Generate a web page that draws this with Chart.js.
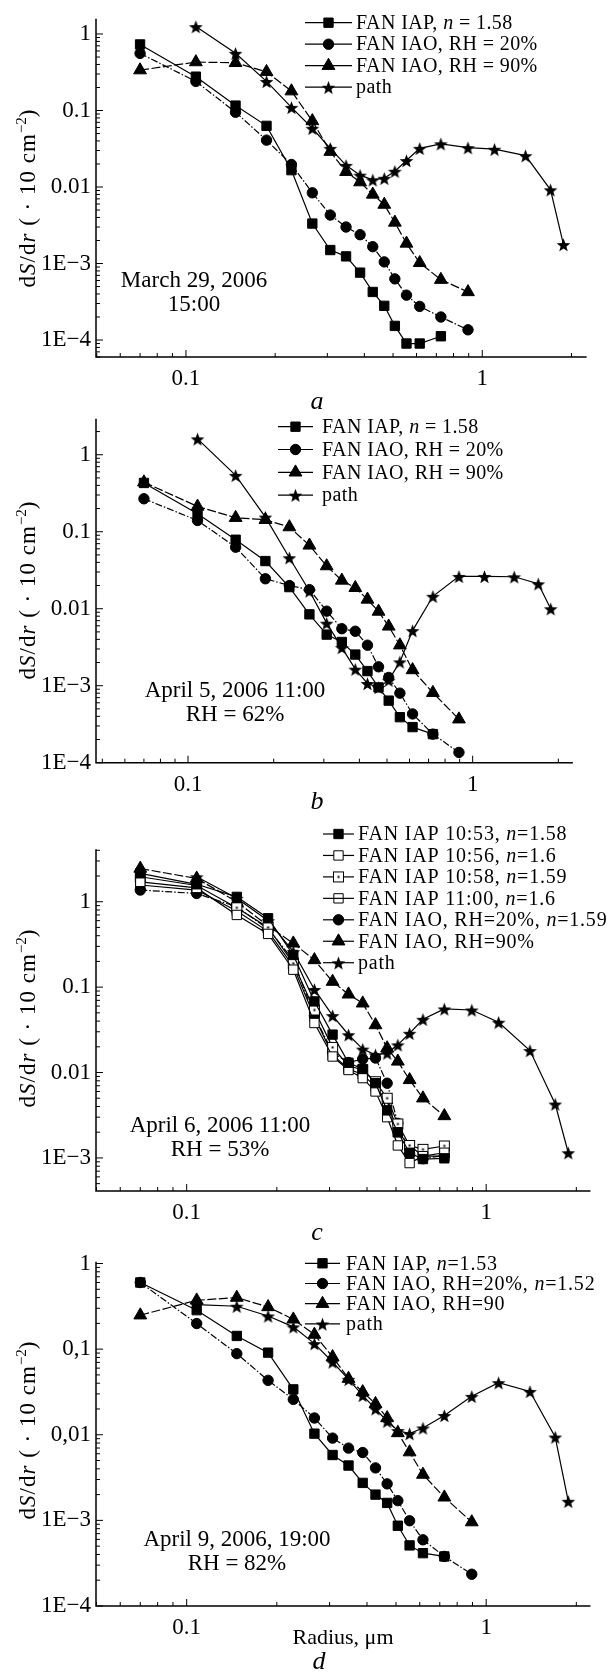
<!DOCTYPE html>
<html>
<head>
<meta charset="utf-8">
<script src="https://cdn.jsdelivr.net/npm/chart.js@4.4.0/dist/chart.umd.min.js"></script>
<style>
  body { margin: 0; background: #fff; }
  #page { position: relative; width: 610px; height: 1672px; font-family: "Liberation Serif", "Times New Roman", serif; color: #000; overflow: hidden; }
  .panel { position: absolute; left: 0; }
  .ytitle { position: absolute; left: 27px; white-space: nowrap; font-size: 23px; letter-spacing: 1px; transform: translate(-50%, -50%) rotate(-90deg); }
  .ytitle sup { font-size: 15px; letter-spacing: 0; }
  .note { position: absolute; font-size: 23px; line-height: 24px; text-align: center; white-space: nowrap; transform: translateX(-50%); }
  .letter { position: absolute; font-style: italic; font-size: 26px; transform: translate(-50%, -50%); }
  .xtitle { position: absolute; font-size: 22px; white-space: nowrap; transform: translate(-50%, -50%); }
</style>
</head>
<body>
<div id="page">
  <div class="panel" style="top:0px"><canvas id="chartA" width="610" height="400"></canvas></div>
  <div class="panel" style="top:400px"><canvas id="chartB" width="610" height="415"></canvas></div>
  <div class="panel" style="top:815px"><canvas id="chartC" width="610" height="425"></canvas></div>
  <div class="panel" style="top:1240px"><canvas id="chartD" width="610" height="432"></canvas></div>

  <div class="ytitle" style="top:198px">d<i>S</i>/d<i>r</i> ( · 10 cm<sup>−2</sup>)</div>
  <div class="ytitle" style="top:590px">d<i>S</i>/d<i>r</i> ( · 10 cm<sup>−2</sup>)</div>
  <div class="ytitle" style="top:1018px">d<i>S</i>/d<i>r</i> ( · 10 cm<sup>−2</sup>)</div>
  <div class="ytitle" style="top:1430px">d<i>S</i>/d<i>r</i> ( · 10 cm<sup>−2</sup>)</div>

  <div class="note" style="left:194px;top:268px">March 29, 2006<br>15:00</div>
  <div class="note" style="left:235px;top:678px">April 5, 2006 11:00<br>RH = 62%</div>
  <div class="note" style="left:220px;top:1113px">April 6, 2006 11:00<br>RH = 53%</div>
  <div class="note" style="left:237px;top:1527px">April 9, 2006, 19:00<br>RH = 82%</div>

  <div class="letter" style="left:317px;top:401px">a</div>
  <div class="letter" style="left:317px;top:801px">b</div>
  <div class="letter" style="left:317px;top:1232px">c</div>
  <div class="letter" style="left:319px;top:1661px">d</div>
  <div class="xtitle" style="left:343px;top:1637px">Radius, μm</div>
</div>

<script>
// Radius grid (µm) shared by the FAN points, plus the far points of the path curve
const radius = [0.07, 0.108, 0.147, 0.187, 0.227, 0.267, 0.307, 0.347, 0.387, 0.427, 0.467, 0.507, 0.555, 0.615, 0.725, 0.895];
const radiusFar = [1.1, 1.4, 1.7, 1.88];
const radiusPath = radius.slice(1).concat(radiusFar);

// a — March 29, 2006 15:00
const aIap = [0.73, 0.277, 0.116, 0.063, 0.0166, 0.00333, 0.0015, 0.00124, 0.00076, 0.000425, 0.00028, 0.000153, 0.00009, 0.00009, 0.000112];
const aIao20 = [0.558, 0.24, 0.095, 0.041, 0.0197, 0.0084, 0.0043, 0.003, 0.00238, 0.00166, 0.00105, 0.00063, 0.000386, 0.000275, 0.0002, 0.000136];
const aIao90 = [0.337, 0.43, 0.42, 0.32, 0.179, 0.073, 0.029, 0.0158, 0.0116, 0.008, 0.0059, 0.00344, 0.00183, 0.00102, 0.000615, 0.000425];
const aPath = [1.25, 0.56, 0.24, 0.11, 0.0586, 0.032, 0.0192, 0.0143, 0.0124, 0.013, 0.0161, 0.0222, 0.032, 0.0367, 0.0327, 0.0312, 0.0257, 0.0092, 0.00177];

// b — April 5, 2006 11:00
const bIap = [0.43, 0.171, 0.0787, 0.0416, 0.0191, 0.00845, 0.00461, 0.0037, 0.00254, 0.00155, 0.00095, 0.00064, 0.00039, 0.00029, 0.000235];
const bIao20 = [0.268, 0.14, 0.063, 0.0245, 0.020, 0.0177, 0.0093, 0.0055, 0.0051, 0.00336, 0.00176, 0.00128, 0.0008, 0.00043, 0.000235, 0.000136];
const bIao90 = [0.44, 0.213, 0.152, 0.143, 0.115, 0.0665, 0.0358, 0.0233, 0.0187, 0.0132, 0.0092, 0.0059, 0.00336, 0.0016, 0.00081, 0.000367];
const bPath = [1.61, 0.54, 0.155, 0.046, 0.017, 0.0065, 0.00313, 0.00164, 0.00107, 0.00095, 0.00118, 0.00204, 0.0052, 0.0145, 0.0263, 0.0263, 0.026, 0.0211, 0.01];

// c — April 6, 2006 11:00
const cIap1053 = [2.15, 1.6, 1.14, 0.64, 0.238, 0.068, 0.0278, 0.013, 0.011, 0.0075, 0.0036, 0.002, 0.00115, 0.00097, 0.00099];
const cIap1056 = [1.71, 1.45, 0.7, 0.42, 0.16, 0.038, 0.0154, 0.0107, 0.0086, 0.006, 0.003, 0.0014, 0.00087, 0.00105, 0.00115];
const cIap1058 = [1.96, 1.55, 0.85, 0.5, 0.19, 0.054, 0.0197, 0.012, 0.0107, 0.0078, 0.005, 0.0025, 0.0014, 0.00126, 0.00138];
const cIap1100 = [1.57, 1.37, 0.78, 0.45, 0.175, 0.045, 0.0161, 0.011, 0.0095, 0.0068, 0.0046, 0.002, 0.0014, 0.00105, 0.00105];
const cIao20 = [1.37, 1.25, 0.87, 0.48, 0.208, 0.046, 0.0172, 0.0131, 0.0144, 0.0148, 0.0075, 0.00254, 0.00112, 0.00098, 0.00107];
const cIao90 = [2.45, 1.87, 1.0, 0.52, 0.326, 0.208, 0.116, 0.0824, 0.0647, 0.036, 0.0193, 0.0135, 0.0082, 0.005, 0.0031];
const cPath = [1.96, 1.1, 0.6, 0.26, 0.094, 0.0464, 0.0277, 0.0188, 0.0161, 0.0169, 0.0211, 0.0288, 0.042, 0.0556, 0.054, 0.0388, 0.0181, 0.00428, 0.00115];

// d — April 9, 2006 19:00
const dIap = [0.6, 0.285, 0.1426, 0.091, 0.0339, 0.0103, 0.0058, 0.00437, 0.00274, 0.002, 0.0016, 0.000866, 0.00051, 0.000414, 0.000379];
const dIao20 = [0.6, 0.199, 0.0886, 0.0432, 0.0259, 0.0157, 0.00914, 0.00698, 0.0062, 0.0041, 0.00267, 0.0017, 0.00099, 0.000593, 0.000379, 0.000235];
const dIao90 = [0.249, 0.372, 0.4, 0.311, 0.223, 0.148, 0.081, 0.0452, 0.0316, 0.023, 0.0157, 0.0105, 0.00627, 0.00343, 0.00186, 0.000955];
const dPath = [0.331, 0.317, 0.244, 0.182, 0.116, 0.0708, 0.0444, 0.0288, 0.0201, 0.0144, 0.0112, 0.0103, 0.012, 0.0168, 0.0281, 0.0406, 0.0321, 0.0094, 0.00167];

// tick labels
const xTicks = [0.1, 1];
const xTickLabels = ['0.1', '1'];
const yTicksStd = [1, 0.1, 0.01, 1e-3, 1e-4];
const yLabelsStd = ['1', '0.1', '0.01', '1E−3', '1E−4'];
const yTicksC = [1, 0.1, 0.01, 1e-3];
const yLabelsC = ['1', '0.1', '0.01', '1E−3'];
const yLabelsD = ['1', '0,1', '0,01', '1E−3', '1E−4'];

const FONT = '"Liberation Serif", "Times New Roman", serif';

// marker images (filled star, square with a dot)
function makeStar(r) {
  const s = Math.ceil(r * 2 + 2);
  const c = document.createElement('canvas');
  c.width = c.height = s;
  const g = c.getContext('2d');
  g.beginPath();
  for (let i = 0; i < 10; i++) {
    const a = -Math.PI / 2 + i * Math.PI / 5;
    const rr = i % 2 ? r * 0.42 : r;
    g.lineTo(s / 2 + rr * Math.cos(a), s / 2 + 1 + rr * Math.sin(a));
  }
  g.closePath();
  g.fillStyle = '#000';
  g.fill();
  return c;
}
function makeDotSquare(side) {
  const s = side + 2;
  const c = document.createElement('canvas');
  c.width = c.height = s;
  const g = c.getContext('2d');
  g.fillStyle = '#fff';
  g.fillRect(1, 1, side, side);
  g.strokeStyle = '#000';
  g.lineWidth = 1;
  g.strokeRect(1.5, 1.5, side - 1, side - 1);
  g.fillStyle = '#000';
  g.fillRect(s / 2 - 1, s / 2 - 1, 2, 2);
  return c;
}
const starImg = makeStar(7.2);
const dotSqImg = makeDotSquare(11);

const styles = {
  sq: { pointStyle: 'rect', pointRadius: 6.6, pointBackgroundColor: '#000', pointBorderColor: '#000', borderDash: [] },
  sqOpen: { pointStyle: 'rect', pointRadius: 6.6, pointBackgroundColor: '#fff', pointBorderColor: '#000', borderDash: [] },
  sqDot: { pointStyle: dotSqImg, pointRadius: 6.6, pointBackgroundColor: '#fff', pointBorderColor: '#000', borderDash: [] },
  sqLine: { pointStyle: 'rect', pointRadius: 6.6, pointBackgroundColor: 'rgba(0,0,0,0)', pointBorderColor: '#000', borderDash: [] },
  circ: { pointStyle: 'circle', pointRadius: 5.2, pointBackgroundColor: '#000', pointBorderColor: '#000', borderDash: [7, 2, 1.5, 2] },
  tri: { pointStyle: 'triangle', pointRadius: 7.4, pointBackgroundColor: '#000', pointBorderColor: '#000', borderDash: [9, 2.5] },
  star: { pointStyle: starImg, pointRadius: 7.2, pointBackgroundColor: '#000', pointBorderColor: '#000', borderDash: [] }
};

function serie(label, xs, ys, style) {
  return {
    label,
    data: ys.map((y, i) => ({ x: xs[i], y })),
    borderColor: '#000',
    borderWidth: 1.2,
    pointBorderWidth: 1,
    pointHoverRadius: style.pointRadius,
    tension: 0,
    fill: false,
    ...style
  };
}

// axes, inward ticks and the in-plot legend
const framePlugin = {
  id: 'frame',
  afterDraw(chart, args, opts) {
    const ctx = chart.ctx;
    const area = chart.chartArea;
    const xs = chart.scales.x, ys = chart.scales.y;
    ctx.save();
    ctx.strokeStyle = '#000';
    ctx.setLineDash([]);
    ctx.lineWidth = 1.5;
    ctx.beginPath();
    ctx.moveTo(area.left, area.top);
    ctx.lineTo(area.left, area.bottom);
    ctx.lineTo(area.right, area.bottom);
    ctx.stroke();

    ctx.lineWidth = 1;
    const eachTick = (scale, fn) => {
      const lo = Math.floor(Math.log10(scale.min)), hi = Math.ceil(Math.log10(scale.max));
      for (let d = lo; d <= hi; d++) {
        for (let k = 1; k <= 9; k++) {
          const v = k * Math.pow(10, d);
          if (v < scale.min * 0.999 || v > scale.max * 1.001) continue;
          fn(scale.getPixelForValue(v), k === 1);
        }
      }
    };
    ctx.beginPath();
    eachTick(xs, (px, major) => {
      ctx.moveTo(px, area.bottom);
      ctx.lineTo(px, area.bottom - (major ? 7 : 4));
    });
    eachTick(ys, (py, major) => {
      ctx.moveTo(area.left, py);
      ctx.lineTo(area.left + (major ? 7 : 4), py);
    });
    ctx.stroke();

    // legend
    const lg = opts.legend;
    chart.data.datasets.forEach((ds, i) => {
      const y = lg.y + i * lg.gap;
      ctx.lineWidth = 1.2;
      ctx.setLineDash([]);
      ctx.beginPath();
      ctx.moveTo(lg.x0, y);
      ctx.lineTo(lg.x1, y);
      ctx.stroke();
      ctx.fillStyle = ds.pointBackgroundColor;
      ctx.strokeStyle = ds.pointBorderColor;
      ctx.lineWidth = 1;
      Chart.helpers.drawPoint(ctx, { pointStyle: ds.pointStyle, rotation: 0, radius: ds.pointRadius, borderWidth: 1 }, (lg.x0 + lg.x1) / 2, y);
      ctx.fillStyle = '#000';
      ctx.strokeStyle = '#000';
      ctx.textBaseline = 'middle';
      ctx.textAlign = 'left';
      ctx.letterSpacing = lg.spacing + 'px';
      let tx = lg.tx;
      ds.label.split(/(\bn\b)/).forEach(part => {
        if (!part) return;
        ctx.font = (part === 'n' ? 'italic ' : '') + '20px ' + FONT;
        ctx.fillText(part, tx, y + 1);
        tx += ctx.measureText(part).width;
      });
      ctx.letterSpacing = '0px';
    });
    ctx.restore();
  }
};

function makeChart(id, datasets, cfg) {
  const ctx = document.getElementById(id).getContext('2d');
  return new Chart(ctx, {
    type: 'line',
    data: { datasets },
    options: {
      responsive: false,
      animation: false,
      devicePixelRatio: 1,
      layout: { padding: cfg.padding },
      plugins: {
        legend: { display: false },
        tooltip: { enabled: false },
        frame: { legend: cfg.legend }
      },
      scales: {
        x: {
          type: 'logarithmic',
          min: cfg.xMin, max: cfg.xMax,
          afterFit: s => { s.height = 40; },
          afterBuildTicks: s => { s.ticks = xTicks.map(v => ({ value: v })); },
          grid: { display: false, drawTicks: false },
          border: { display: false },
          ticks: {
            color: '#000', padding: 8, autoSkip: false, maxRotation: 0,
            font: { family: FONT, size: 23 },
            callback: (v, i) => xTickLabels[i]
          }
        },
        y: {
          type: 'logarithmic',
          min: cfg.yMin, max: cfg.yMax,
          afterFit: s => { s.width = 96; },
          afterBuildTicks: s => { s.ticks = cfg.yTicks.map(v => ({ value: v })); },
          grid: { display: false, drawTicks: false },
          border: { display: false },
          ticks: {
            color: '#000', padding: 5, autoSkip: false,
            font: { family: FONT, size: 23 },
            callback: (v, i) => cfg.yLabels[i]
          }
        }
      }
    },
    plugins: [framePlugin]
  });
}

makeChart('chartA', [
  serie('FAN IAP, n = 1.58', radius, aIap, styles.sq),
  serie('FAN IAO, RH = 20%', radius, aIao20, styles.circ),
  serie('FAN IAO, RH = 90%', radius, aIao90, styles.tri),
  serie('path', radiusPath, aPath, styles.star)
], {
  padding: { top: 7, right: 23.4, bottom: 3, left: 0 },
  xMin: 0.0497, xMax: 2.25, yMin: 6.0e-5, yMax: 1.58,
  yTicks: yTicksStd, yLabels: yLabelsStd,
  legend: { x0: 305, x1: 352, tx: 356, y: 22.7, gap: 21.5, spacing: 0.4 }
});

makeChart('chartB', [
  serie('FAN IAP, n = 1.58', radius, bIap, styles.sq),
  serie('FAN IAO, RH = 20%', radius, bIao20, styles.circ),
  serie('FAN IAO, RH = 90%', radius, bIao90, styles.tri),
  serie('path', radiusPath, bPath, styles.star)
], {
  padding: { top: 18.3, right: 37.1, bottom: 12.3, left: 0 },
  xMin: 0.0475, xMax: 2.25, yMin: 1e-4, yMax: 2.93,
  yTicks: yTicksStd, yLabels: yLabelsStd,
  legend: { x0: 278, x1: 313, tx: 322, y: 26.7, gap: 22.8, spacing: 0.4 }
});

makeChart('chartC', [
  serie('FAN IAP 10:53, n=1.58', radius, cIap1053, styles.sq),
  serie('FAN IAP 10:56, n=1.6', radius, cIap1056, styles.sqOpen),
  serie('FAN IAP 10:58, n=1.59', radius, cIap1058, styles.sqDot),
  serie('FAN IAP 11:00, n=1.6', radius, cIap1100, styles.sqLine),
  serie('FAN IAO, RH=20%, n=1.59', radius, cIao20, styles.circ),
  serie('FAN IAO, RH=90%', radius, cIao90, styles.tri),
  serie('path', radiusPath, cPath, styles.star)
], {
  padding: { top: 34.3, right: 19.5, bottom: 9, left: 0 },
  xMin: 0.0498, xMax: 2.23, yMin: 4.1e-4, yMax: 4.11,
  yTicks: yTicksC, yLabels: yLabelsC,
  legend: { x0: 323, x1: 354, tx: 358, y: 19, gap: 21.45, spacing: 0.8 }
});

makeChart('chartD', [
  serie('FAN IAP, n=1.53', radius, dIap, styles.sq),
  serie('FAN IAO, RH=20%, n=1.52', radius, dIao20, styles.circ),
  serie('FAN IAO, RH=90', radius, dIao90, styles.tri),
  serie('path', radiusPath, dPath, styles.star)
], {
  padding: { top: 21.7, right: 19.5, bottom: 26, left: 0 },
  xMin: 0.0498, xMax: 2.23, yMin: 1e-4, yMax: 1.05,
  yTicks: yTicksStd, yLabels: yLabelsD,
  legend: { x0: 305, x1: 340, tx: 346, y: 23.3, gap: 20.2, spacing: 0.8 }
});
</script>
</body>
</html>
